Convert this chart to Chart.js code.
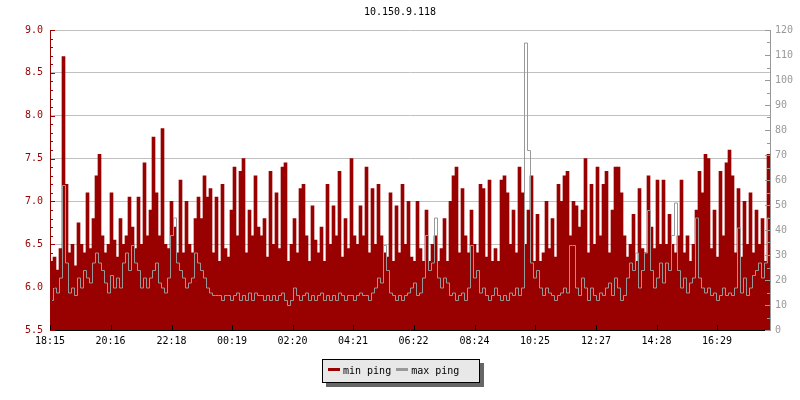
<!DOCTYPE html>
<html>
<head>
<meta charset="utf-8">
<script src="https://cdn.jsdelivr.net/npm/chart.js@4/dist/chart.umd.min.js"></script>
<style>
  body { margin: 0; background: #fff; }
  #wrap { position: relative; width: 800px; height: 400px; }
  #title { position: absolute; left: 0; top: 6px; width: 800px; text-align: center;
           font: 10px 'DejaVu Sans Mono', monospace; color: #000; }
  #legend { position: absolute; left: 322px; top: 359px; width: 151px; height: 22px;
            background: #e8e8e8; border: 1px solid #000; box-shadow: 4px 4px 0 #666;
            font: 10px 'DejaVu Sans Mono', monospace; line-height: 22px; white-space: nowrap;
            padding-left: 5px; box-sizing: content-box; }
  #legend .sw { display: inline-block; width: 12px; height: 3px; vertical-align: 3px; margin-right: 3px; }
  #legend .item { margin-right: 5px; }
</style>
</head>
<body>
<div id="wrap">
  <canvas id="pingChart" width="800" height="400"></canvas>
  <div id="title">10.150.9.118</div>
  <div id="legend"></div>
</div>
<script>
// samples every 6 minutes, starting 18:15
const sampleMinutes = 6;
const spanMinutes = 1440;

// min ping (ms, left axis)
const minPing = [
  6.3,6.35,6.2,6.45,8.69,7.2,6.4,6.5,6.25,6.75,6.5,6.4,7.1,6.45,6.8,7.3,7.55,6.6,6.4,6.5,7.1,6.55,6.35,6.8,6.5,6.6,7.05,6.7,6.45,7.05,6.5,7.45,6.6,6.9,7.75,
  7.1,6.6,7.85,6.5,6.45,7.0,6.7,6.4,7.25,6.4,7.0,6.5,6.4,6.8,7.05,6.8,7.3,7.05,7.15,6.4,7.05,6.3,7.2,6.45,6.35,6.9,7.4,6.6,7.35,7.5,6.4,6.9,6.6,7.3,6.7,
  6.6,6.8,6.35,7.35,6.5,7.1,6.45,7.4,7.45,6.3,6.5,6.8,6.4,7.15,7.2,6.6,6.3,6.95,6.55,6.4,6.7,6.3,7.2,6.5,6.95,6.6,7.35,6.35,6.8,6.45,7.5,6.6,6.5,6.95,6.6,
  7.4,6.4,7.15,6.5,7.2,6.6,6.4,6.35,7.1,6.3,6.95,6.4,7.2,6.5,7.0,6.35,6.3,7.0,6.45,6.3,6.9,6.3,6.5,6.6,6.3,6.45,6.8,6.3,7.0,7.3,7.4,6.4,7.15,6.6,6.4,
  6.9,6.5,6.4,7.2,7.15,6.35,7.25,6.3,6.45,6.3,7.25,7.3,7.1,6.5,6.9,6.4,7.4,7.1,6.5,6.9,7.3,6.3,6.85,6.3,6.4,7.0,6.45,6.8,6.35,7.2,7.0,7.3,7.35,6.6,7.0,
  6.95,6.7,6.9,7.5,6.4,7.2,6.5,7.4,6.6,7.2,7.35,6.4,6.9,7.4,7.4,7.1,6.6,6.35,6.5,6.85,6.3,7.15,6.45,6.4,7.3,6.7,6.45,7.25,6.5,7.25,6.5,6.85,6.5,6.4,6.6,
  7.25,6.4,6.6,6.3,6.5,6.9,7.35,7.1,7.55,7.5,6.45,6.9,6.35,7.35,6.6,7.45,7.6,7.3,6.4,7.15,6.35,7.0,6.5,7.1,6.4,6.9,6.5,6.8,6.3,7.55
];

// max ping (ms, right axis)
const maxPing = [
  12,17,15,21,58,27,15,17,14,21,17,24,21,19,27,31,27,24,19,15,22,17,21,17,27,31,24,34,27,24,17,21,17,21,24,
  27,19,17,15,21,38,45,27,24,21,17,19,21,31,27,24,21,17,15,14,14,14,12,14,14,12,14,15,12,14,12,15,12,15,14,
  14,12,14,12,14,12,14,15,12,10,12,17,14,12,14,15,12,14,12,14,15,12,14,12,14,12,15,14,12,14,14,12,14,15,14,
  14,12,15,17,21,19,34,24,15,14,12,14,12,14,15,17,19,14,15,21,38,24,27,45,21,17,21,19,14,15,12,14,15,12,17,
  34,21,24,15,17,14,12,14,17,14,12,14,12,15,14,17,14,17,115,72,27,21,24,17,14,17,15,14,12,14,15,17,15,34,34,
  17,14,21,17,12,17,14,12,15,14,17,19,14,21,17,12,14,21,27,24,31,17,24,31,48,24,17,21,27,19,27,24,38,51,24,
  17,21,15,19,21,45,21,17,15,17,14,15,12,14,17,14,15,14,17,41,15,21,14,17,22,24,27,21,27,45
];

// x axis ticks (minutes after 18:15)
const tickMinutes = [0, 121, 243, 364, 485, 606, 727, 849, 970, 1092, 1213, 1334];
const tickLabels = ["18:15", "20:16", "22:18", "00:19", "02:20", "04:21", "06:22", "08:24", "10:25", "12:27", "14:28", "16:29"];

const RED = '#990000';
const GREY = '#999999';

const toPoints = arr => arr.map((v, i) => ({ x: i * sampleMinutes + sampleMinutes / 2, y: v }));

// small inner tick marks like rrdtool draws them
const innerTicks = {
  id: 'innerTicks',
  beforeDatasetDraw(chart, args) {
    // keep the 1px step line crisp
    if (args.meta.type === 'line') {
      chart.ctx.save();
      chart.ctx.translate(0.5, 0.5);
    }
  },
  afterDatasetDraw(chart, args) {
    if (args.meta.type === 'line') chart.ctx.restore();
  },
  afterDatasetsDraw(chart) {
    const ctx = chart.ctx;
    const { x, y, y2 } = chart.scales;
    const area = chart.chartArea;
    ctx.save();
    ctx.lineWidth = 1;
    ctx.strokeStyle = RED;
    for (let k = 55; k <= 90; k++) {
      const py = Math.round(y.getPixelForValue(k / 10)) + 0.5;
      const len = k % 5 === 0 ? 5 : 3;
      ctx.beginPath();
      ctx.moveTo(area.left, py);
      ctx.lineTo(area.left + len, py);
      ctx.stroke();
    }
    ctx.strokeStyle = GREY;
    for (let v = 0; v <= 120; v += 5) {
      const py = Math.round(y2.getPixelForValue(v)) + 0.5;
      const len = v % 10 === 0 ? 5 : 3;
      ctx.beginPath();
      ctx.moveTo(area.right, py);
      ctx.lineTo(area.right - len, py);
      ctx.stroke();
    }
    ctx.strokeStyle = '#000';
    tickMinutes.forEach(m => {
      const px = Math.round(x.getPixelForValue(m)) + 0.5;
      ctx.beginPath();
      ctx.moveTo(px, area.bottom);
      ctx.lineTo(px, area.bottom - 5);
      ctx.stroke();
    });
    ctx.restore();
  }
};

Chart.defaults.font.family = "'DejaVu Sans Mono', monospace";
Chart.defaults.font.size = 10;

const config = {
  data: {
    datasets: [
      {
        type: 'bar',
        label: 'min ping',
        data: toPoints(minPing),
        backgroundColor: RED,
        borderColor: RED,
        borderWidth: 0,
        barPercentage: 1,
        categoryPercentage: 1,
        yAxisID: 'y',
        order: 2
      },
      {
        type: 'line',
        label: 'max ping',
        data: toPoints(maxPing),
        borderColor: GREY,
        backgroundColor: GREY,
        borderWidth: 1,
        pointRadius: 0,
        stepped: 'middle',
        yAxisID: 'y2',
        order: 1
      }
    ]
  },
  options: {
    responsive: false,
    animation: false,
    devicePixelRatio: 1,
    layout: { padding: { top: 30, bottom: 50, left: 0, right: 0 } },
    plugins: {
      legend: { display: false },
      tooltip: { enabled: false },
      title: { display: false }
    },
    scales: {
      x: {
        type: 'linear',
        min: 0,
        max: spanMinutes,
        offset: false,
        grid: { display: false, drawTicks: false, offset: false },
        border: { display: true, color: '#000' },
        afterBuildTicks: scale => { scale.ticks = tickMinutes.map(v => ({ value: v })); },
        afterFit: scale => { scale.height = 20; },
        ticks: {
          color: '#000',
          padding: 5,
          maxRotation: 0,
          autoSkip: false,
          callback: (val, idx) => tickLabels[idx]
        }
      },
      y: {
        position: 'left',
        min: 5.5,
        max: 9.0,
        grid: { color: '#c0c0c0', drawTicks: false },
        border: { color: RED },
        afterFit: scale => { scale.width = 50; },
        ticks: {
          stepSize: 0.5,
          color: RED,
          padding: 7,
          callback: v => v.toFixed(1)
        }
      },
      y2: {
        position: 'right',
        min: 0,
        max: 120,
        grid: { drawOnChartArea: false, drawTicks: false },
        border: { color: GREY },
        afterFit: scale => { scale.width = 30; },
        ticks: {
          stepSize: 10,
          color: GREY,
          padding: 5
        }
      }
    }
  },
  plugins: [innerTicks]
};

window.addEventListener('DOMContentLoaded', () => {
  const chart = new Chart(document.getElementById('pingChart'), config);
  // legend box built from the datasets
  const legend = document.getElementById('legend');
  chart.data.datasets.forEach(ds => {
    const item = document.createElement('span');
    item.className = 'item';
    const sw = document.createElement('span');
    sw.className = 'sw';
    sw.style.background = ds.borderColor;
    item.appendChild(sw);
    item.appendChild(document.createTextNode(ds.label));
    legend.appendChild(item);
  });
});
</script>
</body>
</html>
